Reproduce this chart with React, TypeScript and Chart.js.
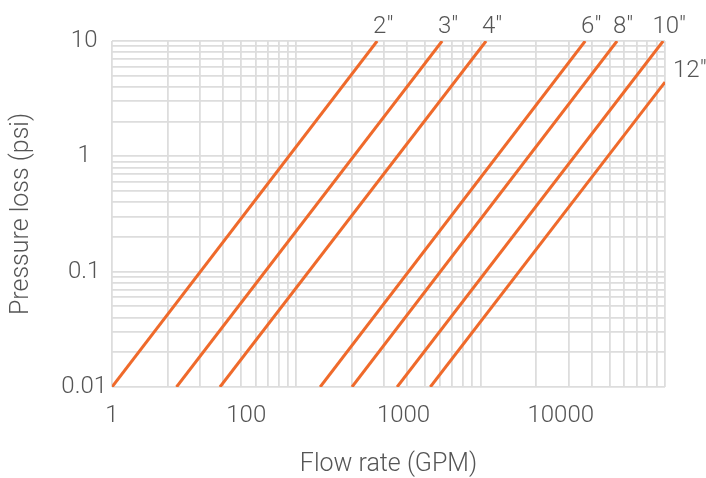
import React, { useEffect, useRef } from 'react';
import { Chart, registerables } from 'chart.js';

Chart.register(...registerables);

// Pipe sizes and the two end points of each (straight on log-log) pressure-loss line
const pipeSizes = ['2"', '3"', '4"', '6"', '8"', '10"', '12"'];
const flowStart = [14, 36, 68, 295, 470, 910, 1480];
const lossStart = [0.01, 0.01, 0.01, 0.01, 0.01, 0.01, 0.01];
const flowEnd = [680, 1760, 3350, 14300, 22800, 44800, 46000];
const lossEnd = [10, 10, 10, 10, 10, 10, 4.4];

// Axis ranges and tick labels
const flowMin = 14;
const flowMax = 46000;
const lossMin = 0.01;
const lossMax = 10;
const xTickValues = [14, 100, 1000, 10000];
const xTickLabels = ['1', '100', '1000', '10000'];
const yTickValues = [0.01, 0.1, 1, 10];
const yTickLabels = ['0.01', '0.1', '1', '10'];
// background log paper (3 decades horizontally)
const paperMin = 1;
const paperMax = 1000;

const LINE_COLOR = '#EF6A2B';
const GRID_COLOR = '#DDDDDD';
const TEXT_COLOR = '#555555';
const FONT_FAMILY = 'Roboto, "Noto Sans", sans-serif';

function logGrid(min: number, max: number): number[] {
  const out: number[] = [];
  const e0 = Math.round(Math.log10(min));
  const e1 = Math.round(Math.log10(max));
  for (let e = e0; e < e1; e++) {
    for (let k = 1; k <= 9; k++) out.push(Number((k * Math.pow(10, e)).toPrecision(3)));
  }
  out.push(max);
  return out;
}

const labelPlugin = {
  id: 'pipeLabels',
  afterDatasetsDraw(chart: any) {
    const ctx = chart.ctx;
    const xs = chart.scales.x;
    const ys = chart.scales.y;
    ctx.save();
    ctx.font = `300 24px ${FONT_FAMILY}`;
    ctx.fillStyle = TEXT_COLOR;
    ctx.textBaseline = 'alphabetic';
    chart.data.datasets.forEach((ds: any) => {
      const p = ds.data[ds.data.length - 1];
      const px = xs.getPixelForValue(p.x);
      const py = ys.getPixelForValue(p.y);
      if (p.y >= lossMax) {
        ctx.textAlign = 'center';
        ctx.fillText(ds.label, px + 6, py - 8);
      } else {
        ctx.textAlign = 'left';
        ctx.fillText(ds.label, px + 8, py - 5);
      }
    });
    ctx.restore();
  },
};

export default function App() {
  const ref = useRef<HTMLCanvasElement | null>(null);

  useEffect(() => {
    if (!ref.current) return;
    const xGrid = logGrid(paperMin, paperMax);
    const yGrid = logGrid(lossMin, lossMax);
    const tickFont = { family: FONT_FAMILY, weight: '300' as any, size: 24 };
    const titleFont = { family: FONT_FAMILY, weight: '300' as any, size: 25, lineHeight: 1.1 };

    const datasets = pipeSizes.map((label, i) => ({
      label,
      data: [
        { x: flowStart[i], y: lossStart[i] },
        { x: flowEnd[i], y: lossEnd[i] },
      ],
      borderColor: LINE_COLOR,
      backgroundColor: LINE_COLOR,
      borderWidth: 3,
      pointRadius: 0,
      fill: false,
      xAxisID: 'x',
      yAxisID: 'y',
    }));

    const chart = new Chart(ref.current, {
      type: 'line',
      data: { datasets },
      options: {
        animation: false,
        responsive: false,
        maintainAspectRatio: false,
        layout: { padding: { top: 41, right: 41, left: 0, bottom: 0 } },
        plugins: { legend: { display: false }, tooltip: { enabled: false } },
        scales: {
          x: {
            type: 'logarithmic',
            position: 'bottom',
            min: flowMin,
            max: flowMax,
            grid: { display: false },
            border: { display: false },
            afterBuildTicks: (s: any) => {
              s.ticks = xTickValues.map((v) => ({ value: v }));
            },
            afterFit: (s: any) => {
              s.height = 91;
            },
            ticks: {
              autoSkip: false,
              maxRotation: 0,
              padding: 7,
              color: TEXT_COLOR,
              font: tickFont,
              callback: (v: any) => {
                const i = xTickValues.indexOf(Number(v));
                return i >= 0 ? xTickLabels[i] : '';
              },
            },
            title: {
              display: true,
              text: 'Flow rate (GPM)',
              color: TEXT_COLOR,
              font: titleFont,
              padding: { top: 0, bottom: 0 },
            },
          },
          xg: {
            type: 'logarithmic',
            position: 'top',
            min: paperMin,
            max: paperMax,
            grid: { color: GRID_COLOR, lineWidth: 1.8, drawTicks: false },
            border: { display: false },
            ticks: { display: false },
            afterBuildTicks: (s: any) => {
              s.ticks = xGrid.map((v) => ({ value: v }));
            },
            afterFit: (s: any) => {
              s.height = 0;
            },
          },
          y: {
            type: 'logarithmic',
            min: lossMin,
            max: lossMax,
            grid: { color: GRID_COLOR, lineWidth: 1.8, drawTicks: false },
            border: { display: false },
            afterBuildTicks: (s: any) => {
              s.ticks = yGrid.map((v) => ({ value: v }));
            },
            afterFit: (s: any) => {
              s.width = 112;
            },
            ticks: {
              autoSkip: false,
              crossAlign: 'center',
              padding: 5,
              color: TEXT_COLOR,
              font: tickFont,
              callback: (v: any) => {
                const val = Number(v);
                const i = yTickValues.findIndex((t) => Math.abs(Math.log10(t) - Math.log10(val)) < 1e-6);
                return i >= 0 ? yTickLabels[i] : '';
              },
            },
            title: {
              display: true,
              text: 'Pressure loss (psi)',
              color: TEXT_COLOR,
              font: titleFont,
              padding: { top: 8, bottom: 0 },
            },
          },
        },
      } as any,
      plugins: [labelPlugin],
    });

    return () => chart.destroy();
  }, []);

  return (
    <div style={{ position: 'fixed', left: 0, top: 0, width: 706, height: 478, background: '#fff' }}>
      <canvas ref={ref} width={706} height={478} style={{ width: 706, height: 478, display: 'block' }} />
    </div>
  );
}
